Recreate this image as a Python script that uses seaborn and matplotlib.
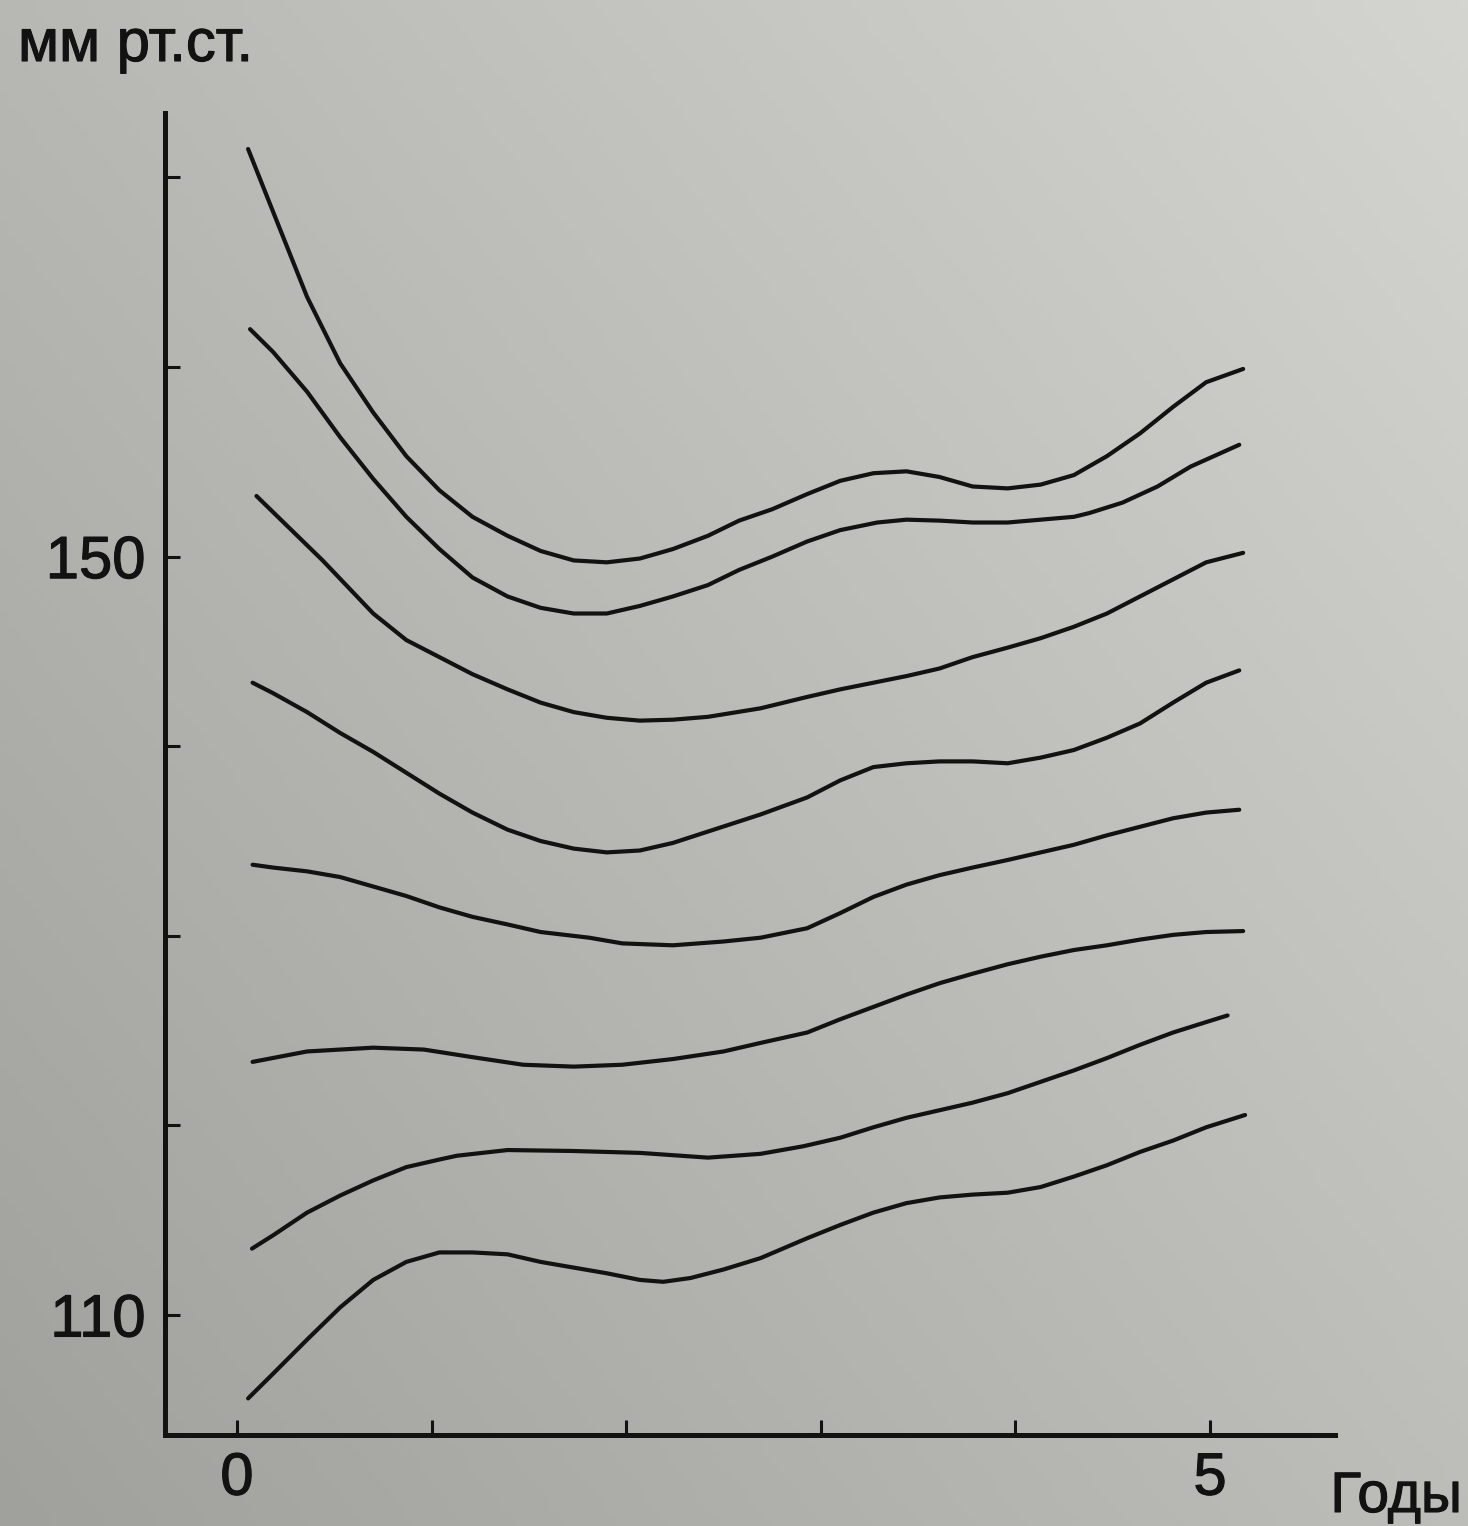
import numpy as np
import pandas as pd
import matplotlib
matplotlib.use("Agg")
import matplotlib.pyplot as plt
import matplotlib.patheffects as pe
import seaborn as sns

# ---- data ----
x1 = [0.057, 0.185, 0.36, 0.53, 0.70, 0.87, 1.04, 1.21, 1.39, 1.56, 1.73, 1.90, 2.07, 2.24, 2.42, 2.58,
      2.75, 2.93, 3.10, 3.27, 3.44, 3.61, 3.78, 3.96, 4.13, 4.30, 4.47, 4.64, 4.81, 4.98, 5.17]
y1 = [171.5, 168.2, 163.7, 160.2, 157.6, 155.3, 153.5, 152.1, 151.1, 150.3, 149.8, 149.7, 149.9, 150.4, 151.1, 151.9,
      152.5, 153.3, 154.0, 154.4, 154.5, 154.2, 153.7, 153.6, 153.8, 154.3, 155.3, 156.5, 157.9, 159.2, 159.9]

x2 = [0.067, 0.185, 0.36, 0.53, 0.70, 0.87, 1.04, 1.21, 1.39, 1.56, 1.73, 1.90, 2.07, 2.24, 2.42, 2.58,
      2.75, 2.93, 3.10, 3.29, 3.44, 3.61, 3.78, 3.96, 4.13, 4.30, 4.38, 4.55, 4.73, 4.90, 5.15]
y2 = [162.0, 160.8, 158.7, 156.3, 154.1, 152.1, 150.4, 148.9, 147.9, 147.3, 147.0, 147.0, 147.4, 147.9, 148.5, 149.3,
      150.0, 150.8, 151.4, 151.8, 151.95, 151.9, 151.8, 151.8, 151.95, 152.1, 152.3, 152.85, 153.7, 154.75, 155.9]

x3 = [0.10, 0.27, 0.44, 0.57, 0.70, 0.87, 1.04, 1.21, 1.39, 1.56, 1.73, 1.90, 2.07, 2.24, 2.42, 2.69,
      2.93, 3.10, 3.27, 3.44, 3.61, 3.78, 3.96, 4.13, 4.30, 4.47, 4.64, 4.81, 4.98, 5.17]
y3 = [153.2, 151.5, 149.8, 148.4, 147.0, 145.6, 144.7, 143.8, 143.0, 142.3, 141.8, 141.5, 141.35, 141.4, 141.55, 142.0,
      142.6, 143.0, 143.35, 143.7, 144.1, 144.7, 145.2, 145.7, 146.3, 147.0, 147.9, 148.8, 149.7, 150.2]

x4 = [0.08, 0.185, 0.36, 0.53, 0.70, 0.87, 1.04, 1.21, 1.39, 1.56, 1.73, 1.90, 2.07, 2.24, 2.42, 2.69,
      2.93, 3.10, 3.27, 3.44, 3.61, 3.78, 3.96, 4.13, 4.30, 4.47, 4.64, 4.81, 4.98, 5.15]
y4 = [143.35, 142.8, 141.8, 140.7, 139.7, 138.6, 137.5, 136.5, 135.6, 135.0, 134.6, 134.4, 134.5, 134.9, 135.5, 136.4,
      137.3, 138.2, 138.9, 139.1, 139.2, 139.2, 139.1, 139.4, 139.8, 140.45, 141.2, 142.3, 143.35, 144.0]

x5 = [0.08, 0.185, 0.36, 0.53, 0.70, 0.87, 1.04, 1.21, 1.39, 1.56, 1.81, 1.98, 2.24, 2.50, 2.69,
      2.93, 3.10, 3.27, 3.44, 3.61, 3.78, 3.96, 4.13, 4.30, 4.47, 4.64, 4.81, 4.98, 5.15]
y5 = [133.75, 133.6, 133.4, 133.1, 132.6, 132.1, 131.5, 131.0, 130.6, 130.2, 129.9, 129.6, 129.5, 129.7, 129.9,
      130.4, 131.2, 132.05, 132.7, 133.2, 133.6, 134.0, 134.4, 134.8, 135.3, 135.75, 136.2, 136.5, 136.65]

x6 = [0.08, 0.36, 0.70, 0.96, 1.21, 1.47, 1.73, 1.98, 2.24, 2.50, 2.69, 2.93, 3.10, 3.27, 3.44, 3.61,
      3.78, 3.96, 4.13, 4.30, 4.47, 4.64, 4.81, 4.98, 5.17]
y6 = [123.35, 123.9, 124.1, 124.0, 123.6, 123.2, 123.1, 123.2, 123.5, 123.9, 124.35, 124.9, 125.6, 126.25, 126.9, 127.5,
      128.0, 128.5, 128.9, 129.25, 129.5, 129.8, 130.05, 130.2, 130.25]

x7 = [0.077, 0.185, 0.36, 0.53, 0.70, 0.87, 1.04, 1.13, 1.39, 1.73, 2.07, 2.42, 2.69, 2.91, 3.10, 3.27,
      3.44, 3.61, 3.78, 3.96, 4.13, 4.30, 4.47, 4.64, 4.81, 4.98, 5.09]
y7 = [113.5, 114.2, 115.4, 116.3, 117.1, 117.8, 118.2, 118.4, 118.7, 118.65, 118.55, 118.3, 118.5, 118.9, 119.35, 119.9,
      120.4, 120.8, 121.2, 121.7, 122.3, 122.9, 123.55, 124.25, 124.9, 125.45, 125.8]

x8 = [0.057, 0.185, 0.36, 0.53, 0.70, 0.87, 1.04, 1.21, 1.39, 1.56, 1.73, 1.90, 2.07, 2.19, 2.33, 2.50, 2.69,
      2.93, 3.10, 3.27, 3.44, 3.61, 3.78, 3.96, 4.13, 4.30, 4.47, 4.64, 4.81, 4.98, 5.18]
y8 = [105.6, 106.9, 108.7, 110.4, 111.85, 112.8, 113.3, 113.3, 113.2, 112.8, 112.5, 112.2, 111.85, 111.75, 111.95, 112.4, 113.0,
      114.05, 114.75, 115.4, 115.9, 116.2, 116.35, 116.45, 116.75, 117.3, 117.9, 118.6, 119.2, 119.9, 120.55]

y_ticks = [110, 120, 130, 140, 150, 160, 170]
y_labels = ["110", "", "", "", "150", "", ""]
x_ticks = [0, 1, 2, 3, 4, 5]
x_labels = ["0", "", "", "", "", "5"]
y_title = "мм рт.ст."
x_title = "Годы"

curves = [(x1, y1), (x2, y2), (x3, y3), (x4, y4), (x5, y5), (x6, y6), (x7, y7), (x8, y8)]
frames = []
for i, (xs, ys) in enumerate(curves):
    frames.append(pd.DataFrame({"x": xs, "y": ys, "curve": f"c{i+1}"}))
df = pd.concat(frames, ignore_index=True)

# ---- figure ----
sns.set_theme(style="white")
plt.rcParams["font.family"] = ["Liberation Sans", "DejaVu Sans"]

W, H = 1468, 1526
INK = "#121212"
fig = plt.figure(figsize=(W / 100, H / 100), dpi=100)

# scanned-paper grey background
bg = fig.add_axes([0, 0, 1, 1], zorder=-10)
gx, gy = np.meshgrid(np.linspace(0, 1, 200), np.linspace(0, 1, 200))
t = 0.55 * gx + 0.45 * gy
c0 = np.array([160, 161, 157]) / 255.0
c1 = np.array([212, 213, 208]) / 255.0
img = c0[None, None, :] * (1 - t[..., None]) + c1[None, None, :] * t[..., None]
bg.imshow(img, origin="lower", aspect="auto", extent=[0, 1, 0, 1])
bg.set_axis_off()

ax = fig.add_axes([165 / W, 1 - 1435 / H, (1335 - 165) / W, (1435 - 113) / H])
ax.patch.set_alpha(0)

sns.lineplot(data=df, x="x", y="y", units="curve", estimator=None, sort=False,
             color=INK, linewidth=3.0, ax=ax, legend=False)
for ln in ax.get_lines():
    ln.set_solid_joinstyle("round")
    ln.set_solid_capstyle("round")

ax.set_xlim(-0.37, 5.642)
ax.set_ylim(103.67, 173.4)

for side in ["top", "right"]:
    ax.spines[side].set_visible(False)
for side in ["left", "bottom"]:
    ax.spines[side].set_visible(True)
    ax.spines[side].set_color(INK)
    ax.spines[side].set_linewidth(3.6)
    ax.spines[side].set_capstyle("projecting")

ax.set_yticks(y_ticks)
ax.set_yticklabels(y_labels)
ax.set_xticks(x_ticks)
ax.set_xticklabels(x_labels)
ax.tick_params(axis="both", which="major", left=True, bottom=True, direction="in",
               length=11, width=2.2, color=INK, labelsize=43, labelcolor=INK)
ax.tick_params(axis="y", pad=14)
ax.tick_params(axis="x", pad=12)
ax.set_xlabel("")
ax.set_ylabel("")

stroke = [pe.withStroke(linewidth=0.8, foreground=INK)]
for lab in ax.get_xticklabels() + ax.get_yticklabels():
    lab.set_path_effects(stroke)

fig.text(18 / W, 1 - 61 / H, y_title, fontsize=43, color=INK, ha="left", va="baseline",
         path_effects=stroke)
fig.text(1462 / W, 1 - 1512 / H, x_title, fontsize=41, color=INK, ha="right", va="baseline",
         path_effects=stroke)

fig.savefig("out.png", dpi=100)
